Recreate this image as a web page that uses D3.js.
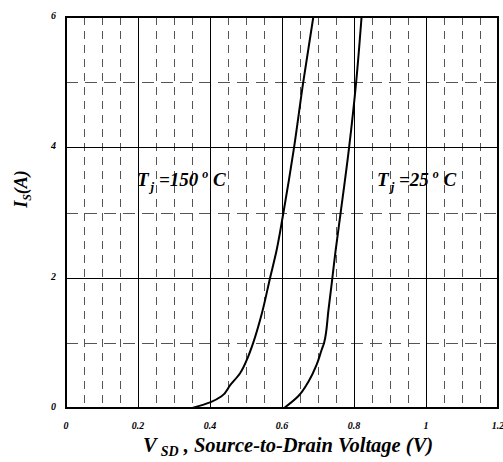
<!DOCTYPE html>
<html lang="en">
  <head>
    <meta charset="UTF-8" />
    <title>Source-to-Drain Diode Forward Voltage</title>
    <script src="https://d3js.org/d3.v7.min.js"></script>
    <style>
      body {
        margin: 0;
        background: #fff;
      }
      svg text {
        font-family: "Liberation Serif", "Times New Roman", serif;
        font-weight: bold;
        font-style: italic;
        fill: #000;
      }
      .minor {
        stroke: #555;
        stroke-width: 1px;
      }
      .major {
        stroke: #000;
        stroke-width: 1px;
      }
      .curve {
        fill: none;
        stroke: #000;
        stroke-width: 2px;
      }
    </style>
  </head>
  <body>
    <svg id="chart" width="503" height="462"></svg>

    <script>
      // Tj = 150 C curve
      const vsd150 = [0.351, 0.402, 0.432, 0.456, 0.483, 0.506, 0.52, 0.544, 0.567, 0.585, 0.604, 0.633, 0.659, 0.687];
      const is150 = [0, 0.09, 0.18, 0.35, 0.53, 0.79, 1.0, 1.45, 2.0, 2.42, 3.0, 3.98, 5.0, 6.0];
      // Tj = 25 C curve
      const vsd25 = [0.606, 0.645, 0.673, 0.696, 0.71, 0.717, 0.729, 0.74, 0.749, 0.763, 0.786, 0.806, 0.821];
      const is25 = [0, 0.18, 0.4, 0.66, 0.89, 1.0, 1.5, 2.0, 2.42, 3.0, 3.98, 5.0, 6.0];

      const xTicks = [0, 0.2, 0.4, 0.6, 0.8, 1.0, 1.2];
      const xTickLabels = ["0", "0.2", "0.4", "0.6", "0.8", "1", "1.2"];
      const yTicks = [0, 2, 4, 6];
      const yTickLabels = ["0", "2", "4", "6"];
      const xMinor = d3.range(1, 24).map((i) => i * 0.05).filter((v, i) => (i + 1) % 4 !== 0);
      const yMinor = [1, 3, 5];

      const svg = d3.select("#chart");
      const margin = { top: 17, right: 5, bottom: 54, left: 66 };
      const width = +svg.attr("width") - margin.left - margin.right;
      const height = +svg.attr("height") - margin.top - margin.bottom;
      const g = svg
        .append("g")
        .attr("transform", `translate(${margin.left},${margin.top})`);

      const x = d3.scaleLinear().domain([0, 1.2]).range([0, width]);
      const y = d3.scaleLinear().domain([0, 6]).range([height, 0]);

      // minor dashed grid
      g.selectAll(".vminor")
        .data(xMinor)
        .join("line")
        .attr("class", "minor")
        .attr("x1", (d) => Math.round(x(d)) + 0.5)
        .attr("x2", (d) => Math.round(x(d)) + 0.5)
        .attr("y1", 0)
        .attr("y2", height)
        .attr("stroke-dasharray", "8,6");
      g.selectAll(".hminor")
        .data(yMinor)
        .join("line")
        .attr("class", "minor")
        .attr("x1", 0)
        .attr("x2", width)
        .attr("y1", (d) => Math.round(y(d)) + 0.5)
        .attr("y2", (d) => Math.round(y(d)) + 0.5)
        .attr("stroke-dasharray", "12,7");

      // major solid grid
      g.selectAll(".vmajor")
        .data(xTicks.slice(1, -1))
        .join("line")
        .attr("class", "major")
        .attr("x1", (d) => Math.round(x(d)) + 0.5)
        .attr("x2", (d) => Math.round(x(d)) + 0.5)
        .attr("y1", 0)
        .attr("y2", height);
      g.selectAll(".hmajor")
        .data(yTicks.slice(1, -1))
        .join("line")
        .attr("class", "major")
        .attr("x1", 0)
        .attr("x2", width)
        .attr("y1", (d) => Math.round(y(d)) + 0.5)
        .attr("y2", (d) => Math.round(y(d)) + 0.5);

      // border
      g.append("rect")
        .attr("width", width)
        .attr("height", height)
        .attr("fill", "none")
        .attr("stroke", "#000")
        .attr("stroke-width", 2);

      // Curves
      const line = d3
        .line()
        .x((d) => x(d[0]))
        .y((d) => y(d[1]))
        .curve(d3.curveMonotoneY);
      g.append("path")
        .datum(d3.zip(vsd150, is150))
        .attr("class", "curve")
        .attr("d", line);
      g.append("path")
        .datum(d3.zip(vsd25, is25))
        .attr("class", "curve")
        .attr("d", line);

      // tick labels
      g.selectAll(".xlab")
        .data(xTicks)
        .join("text")
        .attr("x", (d) => x(d))
        .attr("y", height + 21)
        .attr("text-anchor", "middle")
        .attr("font-size", 10)
        .text((d, i) => xTickLabels[i]);
      g.selectAll(".ylab")
        .data(yTicks)
        .join("text")
        .attr("x", -10)
        .attr("y", (d) => y(d) + 2)
        .attr("text-anchor", "end")
        .attr("font-size", 10)
        .text((d, i) => yTickLabels[i]);

      // curve annotations
      function tempLabel(vx, iy, temp) {
        const t = g
          .append("text")
          .attr("x", x(vx))
          .attr("y", y(iy))
          .attr("font-size", 19);
        t.append("tspan").text("T");
        t.append("tspan").attr("font-size", 13).attr("dy", 5).attr("dx", 2).text("j");
        t.append("tspan").attr("dy", -5).text(" =" + temp);
        t.append("tspan").attr("font-size", 12).attr("dy", -8).attr("dx", 4).text("o");
        t.append("tspan").attr("dy", 8).text(" C");
      }
      tempLabel(0.197, 3.41, "150");
      tempLabel(0.864, 3.41, "25");

      // axis titles
      const xt = svg
        .append("text")
        .attr("x", 143)
        .attr("y", 452)
        .attr("font-size", 20.5);
      xt.append("tspan").text("V");
      xt.append("tspan").attr("font-size", 14).attr("dy", 4).attr("dx", 4).text("SD");
      xt.append("tspan").attr("dy", -4).text(" , Source-to-Drain Voltage (V)");

      const yt = svg
        .append("text")
        .attr("transform", "translate(27,189) rotate(-90)")
        .attr("text-anchor", "middle")
        .attr("font-size", 18);
      yt.append("tspan").text("I");
      yt.append("tspan").attr("font-size", 12).attr("dy", 4).text("S");
      yt.append("tspan").attr("dy", -4).text("(A)");
    </script>
  </body>
</html>
